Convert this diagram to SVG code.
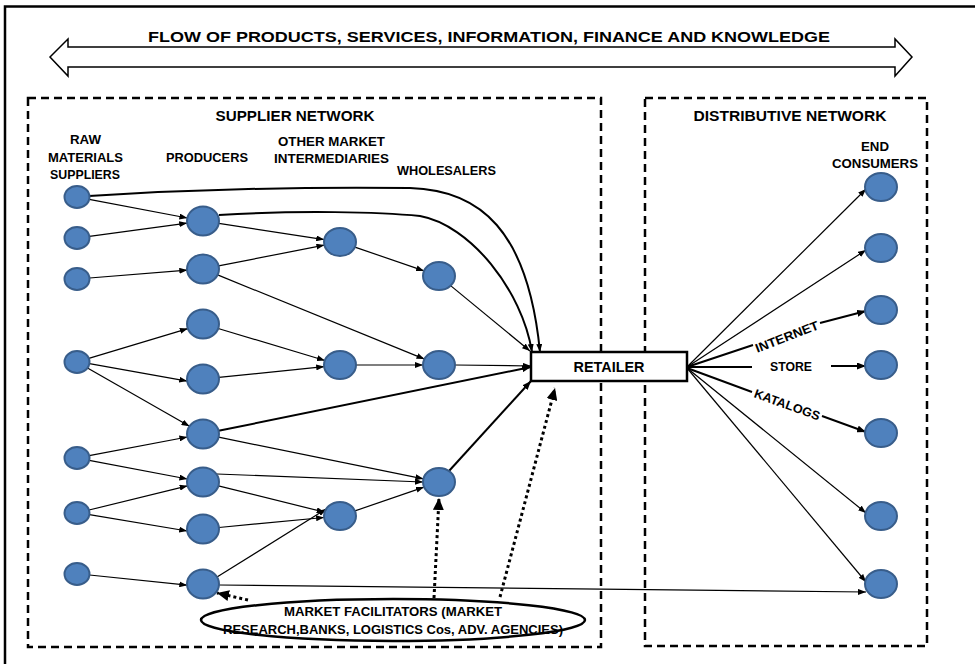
<svg xmlns="http://www.w3.org/2000/svg" width="975" height="664" viewBox="0 0 975 664">
<defs>
<style>
text{font-family:"Liberation Sans",Arial,sans-serif;font-weight:bold;fill:#000;text-anchor:middle}
.n{fill:#4F81BD;stroke:#385D8A;stroke-width:2}
.c{fill:none;stroke:#000;stroke-width:1.2}
.k{fill:none;stroke:#000;stroke-width:2}
.d{fill:none;stroke:#000;stroke-width:3;stroke-dasharray:3 3}
.box{fill:none;stroke:#000;stroke-width:2.5;stroke-dasharray:8 5}
</style>
<marker id="a" viewBox="0 0 8 6" refX="8" refY="3" markerWidth="8" markerHeight="6" markerUnits="userSpaceOnUse" orient="auto"><path d="M0,0L8,3L0,6z" fill="#000"/></marker>
<marker id="ak" viewBox="0 0 9 7" refX="9" refY="3.5" markerWidth="9" markerHeight="7" markerUnits="userSpaceOnUse" orient="auto"><path d="M0,0L9,3.5L0,7z" fill="#000"/></marker>
<marker id="ad" viewBox="0 0 12 11" refX="12" refY="5.5" markerWidth="12" markerHeight="11" markerUnits="userSpaceOnUse" orient="auto"><path d="M0,0L12,5.5L0,11z" fill="#000"/></marker>
</defs>
<rect x="0" y="0" width="975" height="664" fill="#fff"/>
<rect x="5" y="6.5" width="1000" height="700" fill="none" stroke="#000" stroke-width="2.5"/>

<g id="flow-arrow">
<polygon points="50,57 68,39 68,47 895,47 895,39 912,57 895,76 895,67 68,67 68,76" fill="#fff" stroke="#000" stroke-width="1.5"/>
<text x="489" y="42" font-size="15.5" textLength="682" lengthAdjust="spacingAndGlyphs">FLOW OF PRODUCTS, SERVICES, INFORMATION, FINANCE AND KNOWLEDGE</text>
</g>

<g id="supplier-network">
<rect class="box" x="28" y="98" width="573" height="549"/>
<text x="295" y="121" font-size="14" textLength="159" lengthAdjust="spacingAndGlyphs">SUPPLIER NETWORK</text>
</g>
<g id="distributive-network">
<rect class="box" x="645" y="98" width="282" height="548"/>
<text x="790" y="121" font-size="14" textLength="193" lengthAdjust="spacingAndGlyphs">DISTRIBUTIVE NETWORK</text>
</g>

<g id="column-labels" font-size="12.5">
<text x="85.5" y="144" font-size="12.5" textLength="31" lengthAdjust="spacingAndGlyphs">RAW</text>
<text x="85.5" y="162" font-size="12.5" textLength="75" lengthAdjust="spacingAndGlyphs">MATERIALS</text>
<text x="85" y="179" font-size="12.5" textLength="70" lengthAdjust="spacingAndGlyphs">SUPPLIERS</text>
<text x="207" y="162" font-size="12.5" textLength="82" lengthAdjust="spacingAndGlyphs">PRODUCERS</text>
<text x="331.5" y="146" font-size="12.5" textLength="107" lengthAdjust="spacingAndGlyphs">OTHER MARKET</text>
<text x="331.5" y="163" font-size="12.5" textLength="115" lengthAdjust="spacingAndGlyphs">INTERMEDIARIES</text>
<text x="446.5" y="175" font-size="12.5" textLength="99" lengthAdjust="spacingAndGlyphs">WHOLESALERS</text>
<text x="875" y="151" font-size="12.5" textLength="28" lengthAdjust="spacingAndGlyphs">END</text>
<text x="875" y="168" font-size="12.5" textLength="86" lengthAdjust="spacingAndGlyphs">CONSUMERS</text>
</g>

<g id="connectors">
<!-- raw -> producers -->
<line class="c" x1="89.2" y1="199.3" x2="187.4" y2="218" marker-end="url(#a)"/>
<line class="c" x1="89.4" y1="236.3" x2="187.2" y2="223.1" marker-end="url(#a)"/>
<line class="c" x1="89.5" y1="278" x2="187.3" y2="270.2" marker-end="url(#a)"/>
<line class="c" x1="88.8" y1="358.4" x2="187.8" y2="328.6" marker-end="url(#a)"/>
<line class="c" x1="89.4" y1="363.7" x2="187.2" y2="381.1" marker-end="url(#a)"/>
<line class="c" x1="87.5" y1="368" x2="189.5" y2="426.3" marker-end="url(#a)"/>
<line class="c" x1="89.2" y1="455.7" x2="187.4" y2="437" marker-end="url(#a)"/>
<line class="c" x1="89.2" y1="460.3" x2="187.4" y2="479" marker-end="url(#a)"/>
<line class="c" x1="89" y1="510" x2="187.6" y2="485.8" marker-end="url(#a)"/>
<line class="c" x1="89.4" y1="514.6" x2="187.2" y2="531" marker-end="url(#a)"/>
<line class="c" x1="89.5" y1="575" x2="187.3" y2="585.2" marker-end="url(#a)"/>
<!-- curves to retailer -->
<path class="k" d="M89,196 Q250,186 410,188 C480,190 528,230 540,352" marker-end="url(#a)"/>
<path class="k" d="M219,215 C300,210 380,212 420,216 C470,225 522,290 532,352" marker-end="url(#a)"/>
<!-- producers -> intermediaries / wholesalers -->
<line class="c" x1="218.8" y1="223.4" x2="324.2" y2="239.6" marker-end="url(#a)"/>
<line class="c" x1="218.6" y1="265.9" x2="324.4" y2="245.1" marker-end="url(#a)"/>
<line class="c" x1="217.6" y1="274.9" x2="424.5" y2="359.1" marker-end="url(#a)"/>
<line class="c" x1="218.2" y1="328.5" x2="324.9" y2="360.5" marker-end="url(#a)"/>
<line class="c" x1="218.8" y1="377.4" x2="324.2" y2="366.6" marker-end="url(#a)"/>
<line class="k" x1="218.6" y1="430.8" x2="531" y2="367" marker-end="url(#ak)"/>
<line class="c" x1="218.6" y1="437.2" x2="423.4" y2="478.8" marker-end="url(#a)"/>
<line class="c" x1="217" y1="474" x2="423" y2="482" marker-end="url(#a)"/>
<line class="c" x1="218.4" y1="485.8" x2="324.6" y2="512.2" marker-end="url(#a)"/>
<line class="c" x1="218.9" y1="527.5" x2="324.1" y2="517.5" marker-end="url(#a)"/>
<line class="c" x1="217" y1="577" x2="326.1" y2="509.1" marker-end="url(#a)"/>
<line class="c" x1="219" y1="585" x2="866" y2="592" marker-end="url(#a)"/>
<!-- intermediaries -> wholesalers -->
<line class="c" x1="354.9" y1="247.1" x2="424.1" y2="270.9" marker-end="url(#a)"/>
<line class="c" x1="356" y1="365" x2="423" y2="365" marker-end="url(#a)"/>
<line class="c" x1="354.9" y1="510.9" x2="424.1" y2="487.1" marker-end="url(#a)"/>
<!-- wholesalers -> retailer -->
<line class="c" x1="450.6" y1="285.6" x2="530" y2="351" marker-end="url(#a)"/>
<line class="c" x1="455" y1="365" x2="531" y2="366" stroke="#555" marker-end="url(#a)"/>
<line class="k" x1="449" y1="471" x2="531" y2="381" marker-end="url(#ak)"/>
<!-- market facilitators (dotted) -->
<line class="d" x1="248" y1="600" x2="217" y2="593" marker-end="url(#ad)"/>
<line class="d" x1="434" y1="598" x2="439" y2="498" marker-end="url(#ad)"/>
<line class="d" x1="500" y1="597" x2="555" y2="388" marker-end="url(#ad)"/>
<!-- retailer -> end consumers -->
<line class="c" x1="687" y1="367" x2="866" y2="189" marker-end="url(#a)"/>
<line class="c" x1="687" y1="367" x2="866" y2="250" marker-end="url(#a)"/>
<line class="k" x1="687" y1="367" x2="753" y2="345"/>
<line class="k" x1="820" y1="323" x2="866" y2="311" marker-end="url(#ak)"/>
<line class="k" x1="687" y1="367" x2="752" y2="367"/>
<line class="k" x1="831" y1="366" x2="866" y2="366" marker-end="url(#ak)"/>
<line class="k" x1="687" y1="368" x2="752" y2="392"/>
<line class="k" x1="822" y1="416" x2="866" y2="432" marker-end="url(#ak)"/>
<line class="c" x1="687" y1="368" x2="866" y2="513" marker-end="url(#a)"/>
<line class="c" x1="687" y1="368" x2="866" y2="582" marker-end="url(#a)"/>
<text x="787" y="341" font-size="12.5" transform="rotate(-21 787 337)" textLength="67" lengthAdjust="spacingAndGlyphs">INTERNET</text>
<text x="791" y="371" font-size="12.5" textLength="42" lengthAdjust="spacingAndGlyphs">STORE</text>
<text x="787" y="409" font-size="12.5" transform="rotate(20 787 405)" textLength="69" lengthAdjust="spacingAndGlyphs">KATALOGS</text>
</g>

<g id="raw-suppliers">
<ellipse class="n" cx="77" cy="197" rx="12.5" ry="11"/>
<ellipse class="n" cx="77" cy="238" rx="12.5" ry="11"/>
<ellipse class="n" cx="77" cy="279" rx="12.5" ry="11"/>
<ellipse class="n" cx="77" cy="362" rx="12.5" ry="11"/>
<ellipse class="n" cx="77" cy="458" rx="12.5" ry="11"/>
<ellipse class="n" cx="77" cy="513" rx="12.5" ry="11"/>
<ellipse class="n" cx="77" cy="574" rx="12.5" ry="11"/>
</g>
<g id="producers">
<ellipse class="n" cx="203" cy="221" rx="16" ry="14.5"/>
<ellipse class="n" cx="203" cy="269" rx="16" ry="14.5"/>
<ellipse class="n" cx="203" cy="324" rx="16" ry="14.5"/>
<ellipse class="n" cx="203" cy="379" rx="16" ry="14.5"/>
<ellipse class="n" cx="203" cy="434" rx="16" ry="14.5"/>
<ellipse class="n" cx="203" cy="482" rx="16" ry="14.5"/>
<ellipse class="n" cx="203" cy="529" rx="16" ry="14.5"/>
<ellipse class="n" cx="203" cy="584" rx="16" ry="14.5"/>
</g>
<g id="intermediaries">
<ellipse class="n" cx="340" cy="242" rx="16" ry="14"/>
<ellipse class="n" cx="340" cy="365" rx="16" ry="14"/>
<ellipse class="n" cx="340" cy="516" rx="16" ry="14"/>
</g>
<g id="wholesalers">
<ellipse class="n" cx="439" cy="276" rx="16" ry="14"/>
<ellipse class="n" cx="439" cy="365" rx="16" ry="14"/>
<ellipse class="n" cx="439" cy="482" rx="16" ry="14"/>
</g>
<g id="retailer">
<rect x="531" y="352" width="156" height="29" fill="#fff" stroke="#000" stroke-width="2.5"/>
<text x="609" y="372" font-size="14" textLength="71" lengthAdjust="spacingAndGlyphs">RETAILER</text>
</g>
<g id="end-consumers">
<ellipse class="n" cx="881" cy="187" rx="16" ry="14"/>
<ellipse class="n" cx="881" cy="248" rx="16" ry="14"/>
<ellipse class="n" cx="881" cy="310" rx="16" ry="14"/>
<ellipse class="n" cx="881" cy="365" rx="16" ry="14"/>
<ellipse class="n" cx="881" cy="433" rx="16" ry="14"/>
<ellipse class="n" cx="881" cy="516" rx="16" ry="14"/>
<ellipse class="n" cx="881" cy="584" rx="16" ry="14"/>
</g>
<g id="market-facilitators">
<ellipse cx="393" cy="620" rx="192" ry="21" fill="#fff" stroke="#000" stroke-width="2.5"/>
<text x="393" y="616" font-size="12" textLength="218" lengthAdjust="spacingAndGlyphs">MARKET FACILITATORS (MARKET</text>
<text x="393" y="634" font-size="12" textLength="340" lengthAdjust="spacingAndGlyphs">RESEARCH,BANKS,  LOGISTICS Cos, ADV. AGENCIES)</text>
</g>
</svg>
